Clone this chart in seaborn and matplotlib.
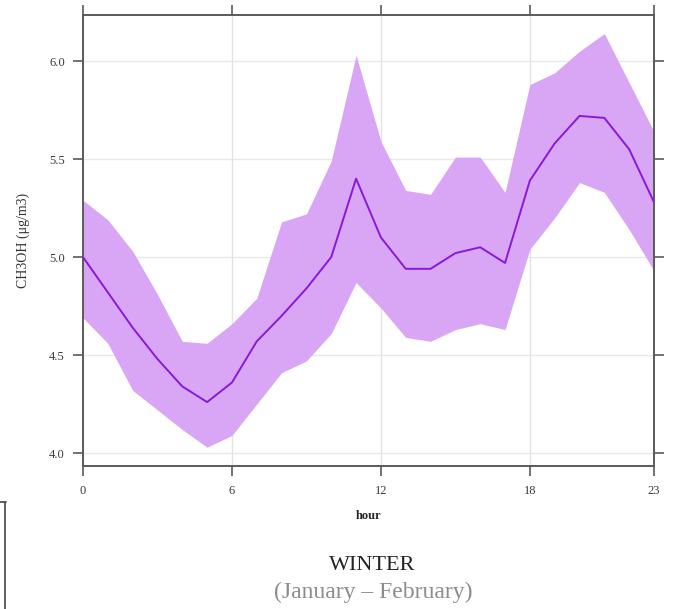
import pandas as pd
import seaborn as sns
import matplotlib.pyplot as plt
from matplotlib.lines import Line2D

# hourly mean of CH3OH with its confidence band (winter)
hours = list(range(24))
mean_vals = [5.00, 4.82, 4.64, 4.48, 4.34, 4.26, 4.36, 4.57, 4.70, 4.84, 5.00, 5.40,
             5.10, 4.94, 4.94, 5.02, 5.05, 4.97, 5.39, 5.58, 5.72, 5.71, 5.55, 5.28]
upper_vals = [5.29, 5.19, 5.03, 4.81, 4.57, 4.56, 4.66, 4.79, 5.18, 5.22, 5.49, 6.03,
              5.59, 5.34, 5.32, 5.51, 5.51, 5.33, 5.88, 5.94, 6.05, 6.14, 5.89, 5.64]
lower_vals = [4.69, 4.56, 4.32, 4.22, 4.12, 4.03, 4.09, 4.25, 4.41, 4.47, 4.61, 4.87,
              4.74, 4.59, 4.57, 4.63, 4.66, 4.63, 5.04, 5.20, 5.38, 5.33, 5.14, 4.93]
x_ticks = [0, 6, 12, 18, 23]
y_ticks = [4.0, 4.5, 5.0, 5.5, 6.0]

df = pd.DataFrame({'hour': hours, 'mean': mean_vals,
                   'upper': upper_vals, 'lower': lower_vals})

sns.set_style('white')
plt.rcParams['font.family'] = ['Liberation Serif', 'DejaVu Serif']

fig = plt.figure(figsize=(6.78, 6.09), dpi=100)
ax = fig.add_axes([0.1224, 0.2348, 0.8422, 0.7406])

# band and mean line
ax.fill_between(df['hour'], df['lower'], df['upper'], color='#d9a6f6', linewidth=0, zorder=2)
sns.lineplot(data=df, x='hour', y='mean', color='#8a17de', linewidth=1.4, ax=ax, zorder=3)

ax.set_xlim(0, 23)
ax.set_ylim(3.934, 6.235)
ax.set_xticks(x_ticks)
ax.set_yticks(y_ticks)
ax.set_xticklabels([str(t) for t in x_ticks])
ax.set_yticklabels([f'{t:.1f}' for t in y_ticks])

# light grid behind the data
for t in y_ticks:
    ax.axhline(t, color='#e8e8e8', linewidth=1, zorder=1)
for t in x_ticks[1:-1]:
    ax.axvline(t, color='#e3e3e3', linewidth=1, zorder=1)

for side in ['left', 'right', 'top', 'bottom']:
    ax.spines[side].set_visible(True)
    ax.spines[side].set_color('#5a5a5a')
    ax.spines[side].set_linewidth(1.4)

ax.tick_params(axis='both', which='both', direction='out', length=7, width=1.2,
               color='#5a5a5a', top=True, right=True, bottom=True, left=True,
               labeltop=False, labelright=False, labelsize=9, labelcolor='#3a3a3a', pad=6)
ax.tick_params(axis='x', pad=7)

ax.set_xlabel('hour', fontsize=9, fontweight='bold', labelpad=9)
ax.set_ylabel('CH3OH (\u03bcg/m3)', fontsize=10, color='#333333', labelpad=14)

# season caption under the plot
fig.text(0.549, 0.072, 'WINTER', ha='center', va='center', fontsize=16, color='#222222')
fig.text(0.550, 0.027, '(January \u2013 February)', ha='center', va='center',
         fontsize=17, color='#8c8c8c')

# fragment of a text box at the bottom left
fig.add_artist(Line2D([0, 6 / 678], [1 - 502 / 609, 1 - 502 / 609],
                      transform=fig.transFigure, color='#444444', linewidth=1.2))
fig.add_artist(Line2D([5 / 678, 5 / 678], [1 - 502 / 609, 0],
                      transform=fig.transFigure, color='#444444', linewidth=1.2))

plt.savefig('out.png', dpi=100)
